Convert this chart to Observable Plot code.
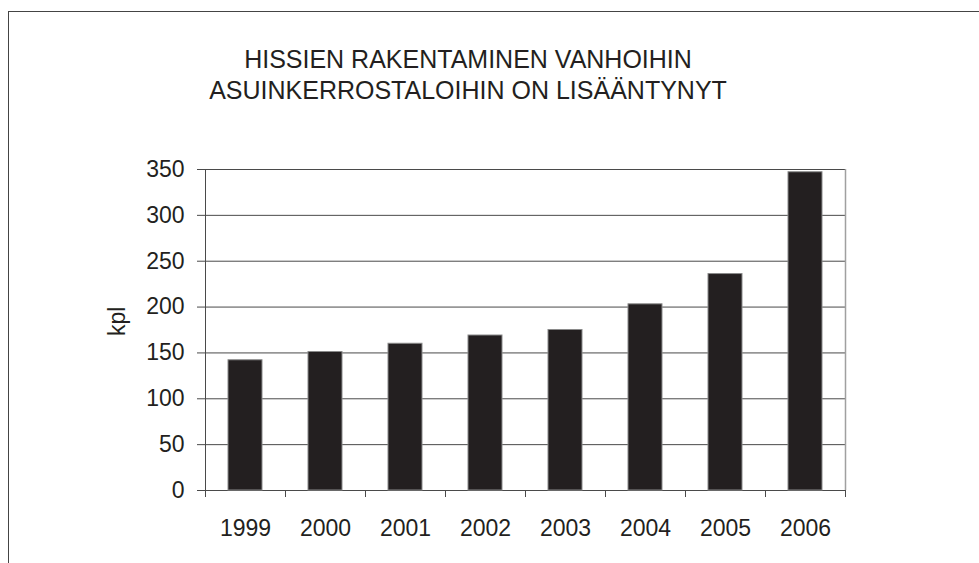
<!DOCTYPE html>
<html>
<head>
<meta charset="utf-8">
<script src="https://cdn.jsdelivr.net/npm/d3@7"></script>
<script src="https://cdn.jsdelivr.net/npm/@observablehq/plot@0.6"></script>
<style>
  html, body { margin: 0; padding: 0; background: #fff; }
  #wrap { position: relative; width: 979px; height: 563px; overflow: hidden; font-family: "Liberation Sans", Arial, sans-serif; color: #231f20; }
  #frame { position: absolute; left: 8px; top: 11px; width: 1200px; height: 800px; border-left: 1.5px solid #444; border-top: 1.5px solid #444; }
  #title { position: absolute; left: 0; top: 44px; width: 936px; text-align: center; font-size: 25px; line-height: 31px; }
  #chart { position: absolute; left: 0; top: 0; }
</style>
</head>
<body>
<div id="wrap">
  <div id="frame"></div>
  <div id="title">HISSIEN RAKENTAMINEN VANHOIHIN<br>ASUINKERROSTALOIHIN ON LISÄÄNTYNYT</div>
  <div id="chart"></div>
</div>
<script>
const years = ["1999", "2000", "2001", "2002", "2003", "2004", "2005", "2006"];
const counts = [142, 151, 160, 169, 175, 203, 236, 347];
const yTicks = [0, 50, 100, 150, 200, 250, 300, 350];
const yLabel = "kpl";

const data = years.map((year, i) => ({year, count: counts[i]}));
const ink = "#231f20";

const chart = Plot.plot({
  width: 979,
  height: 563,
  marginLeft: 205,
  marginRight: 134,
  marginTop: 169,
  marginBottom: 73,
  style: {fontFamily: "'Liberation Sans', Arial, sans-serif", fontSize: "23px", color: ink, background: "transparent", overflow: "visible"},
  x: {domain: years, paddingInner: 0.575, paddingOuter: 0.2875, label: null},
  y: {domain: [0, 350], label: null},
  marks: [
    Plot.gridY(yTicks, {stroke: "#4a4a4a", strokeOpacity: 1, strokeWidth: 1}),
    // right plot-area border
    Plot.ruleX([years[years.length - 1]], {dx: 40, y1: 0, y2: 350, stroke: "#a0a0a0", strokeWidth: 1.5}),
    // left axis line
    Plot.ruleX([years[0]], {dx: -40, y1: 0, y2: 350, stroke: "#4a4a4a", strokeWidth: 1}),
    // category boundary ticks
    Plot.ruleX(years, {dx: -40, y1: 0, y2: 0, insetBottom: -7, stroke: "#4a4a4a"}),
    Plot.ruleX([years[years.length - 1]], {dx: 40, y1: 0, y2: 0, insetBottom: -7, stroke: "#4a4a4a"}),
    Plot.barY(data, {x: "year", y: "count", fill: ink, stroke: "#8a8a8a", strokeWidth: 1}),
    Plot.axisY(yTicks, {tickSize: 8, tickPadding: 13, stroke: "#4a4a4a", fill: ink, label: null}),
    Plot.axisX({tickSize: 0, tickPadding: 29, fill: ink, label: null}),
    Plot.text([yLabel], {text: d => d, frameAnchor: "left", dx: -88, dy: 6, rotate: -90, fontSize: 23, fill: ink})
  ]
});
document.getElementById("chart").appendChild(chart);
</script>
</body>
</html>
